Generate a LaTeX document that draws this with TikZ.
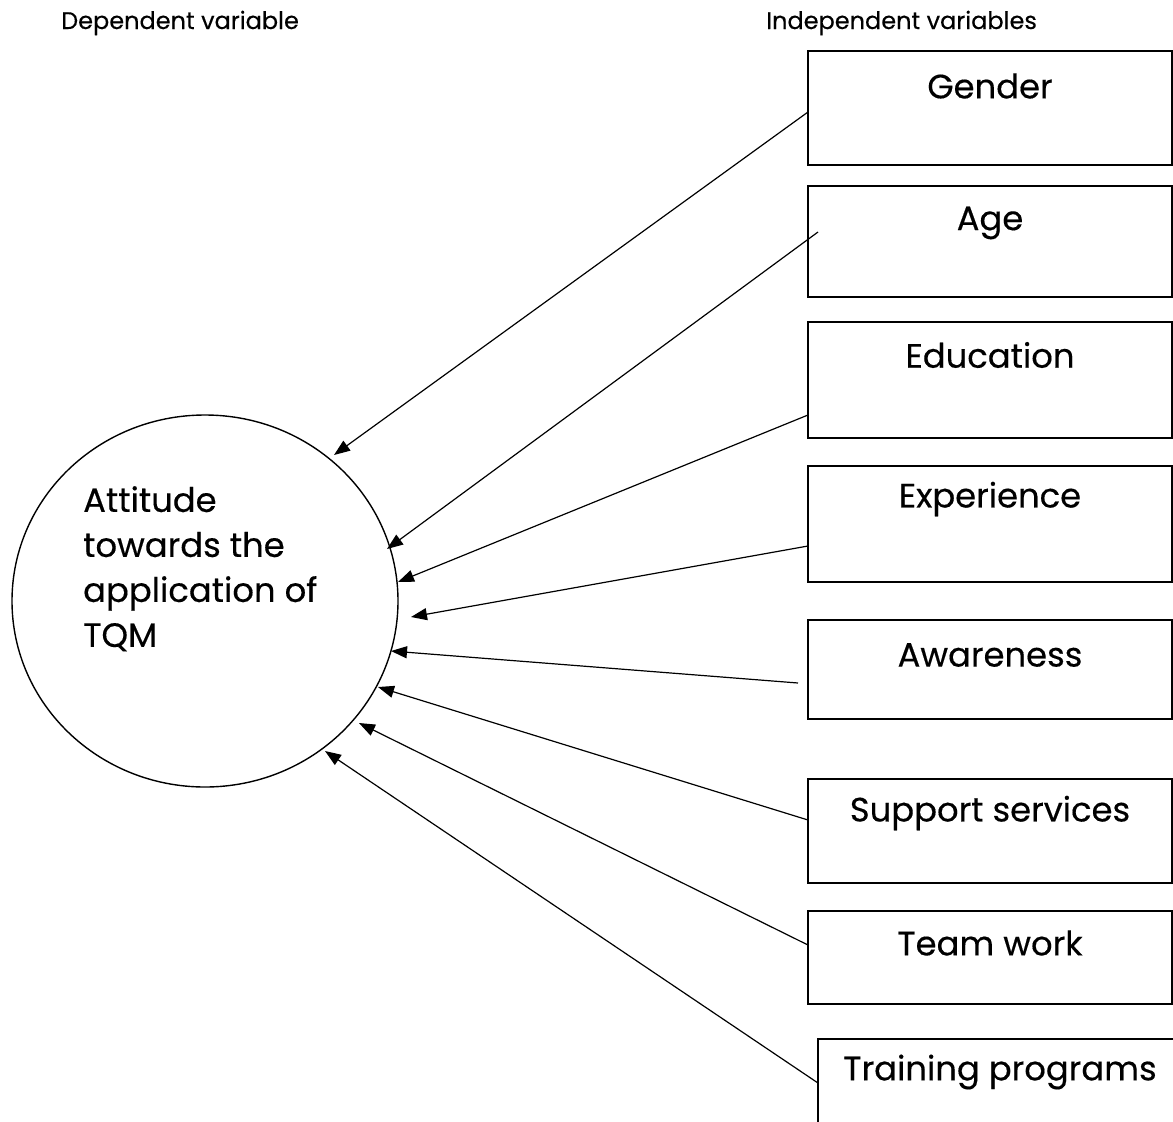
\documentclass[tikz,border=0pt]{standalone}
\usepackage{fontspec}
\setmainfont{Poppins}[FakeBold=0.35]
\usetikzlibrary{arrows.meta,shapes.geometric}

\tikzset{
  varbox/.style={draw, line width=1.6pt, rectangle, inner sep=0pt},
  boxtext/.style={font=\fontsize{33.8}{40}\selectfont, inner sep=0pt},
  headtext/.style={font=\fontsize{24}{28}\selectfont, inner sep=0pt, anchor=base west},
  arr/.style={line width=1.2pt, -{Triangle[length=16pt,width=12pt]}},
}

\begin{document}
\begin{tikzpicture}[x=1pt, y=-1pt]
  \clip (0,0) rectangle (1173,1122);
  \fill[white] (0,0) rectangle (1173,1122);

  % column headings
  \node[headtext] (dephead) at (61,29) {Dependent variable};
  \node[headtext] (indhead) at (766,29) {Independent variables};

  % dependent variable
  \node[draw, line width=1.4pt, ellipse, minimum width=386pt, minimum height=372pt, inner sep=0pt] (attitude) at (205,601) {};
  \node[font=\fontsize{33.8}{45}\selectfont, align=left, anchor=north west, inner sep=0pt] (attitude-t) at (83,486)
    {Attitude\\towards the\\application of\\TQM};

  % independent variables
  \node[varbox, minimum width=364pt, minimum height=114pt] (gender)     at (990,108) {};
  \node[varbox, minimum width=364pt, minimum height=111pt] (age)        at (990,241.5) {};
  \node[varbox, minimum width=364pt, minimum height=116pt] (education)  at (990,380) {};
  \node[varbox, minimum width=364pt, minimum height=116pt] (experience) at (990,524) {};
  \node[varbox, minimum width=364pt, minimum height=99pt]  (awareness)  at (990,669.5) {};
  \node[varbox, minimum width=364pt, minimum height=104pt] (support)    at (990,831) {};
  \node[varbox, minimum width=364pt, minimum height=93pt]  (team)       at (990,957.5) {};
  \node[varbox, minimum width=380pt, minimum height=110pt] (training)   at (1008,1094) {};

  \node[boxtext] (gender-t)     at (990,86)   {Gender};
  \node[boxtext] (age-t)        at (990,223)  {Age};
  \node[boxtext] (education-t)  at (990,355)  {Education};
  \node[boxtext] (experience-t) at (990,499)  {Experience};
  \node[boxtext] (awareness-t)  at (990,655)  {Awareness};
  \node[boxtext] (support-t)    at (990,813)  {Support services};
  \node[boxtext] (team-t)       at (990,943)  {Team work};
  \node[boxtext] (training-t)   at (1000,1072) {Training programs};

  % connector ends
  \coordinate (s1) at (808,112);  \coordinate (t1) at (334,455);
  \coordinate (s2) at (818,232);  \coordinate (t2) at (387,549);
  \coordinate (s3) at (808,415);  \coordinate (t3) at (398,582);
  \coordinate (s4) at (808,546);  \coordinate (t4) at (411,617);
  \coordinate (s5) at (798,683);  \coordinate (t5) at (391,651);
  \coordinate (s6) at (808,820);  \coordinate (t6) at (378,687);
  \coordinate (s7) at (808,945);  \coordinate (t7) at (359,723);
  \coordinate (s8) at (818,1083); \coordinate (t8) at (325,751);

  \foreach \i in {1,...,8} {
    \draw[arr] (s\i) -- (t\i);
  }
\end{tikzpicture}
\end{document}
